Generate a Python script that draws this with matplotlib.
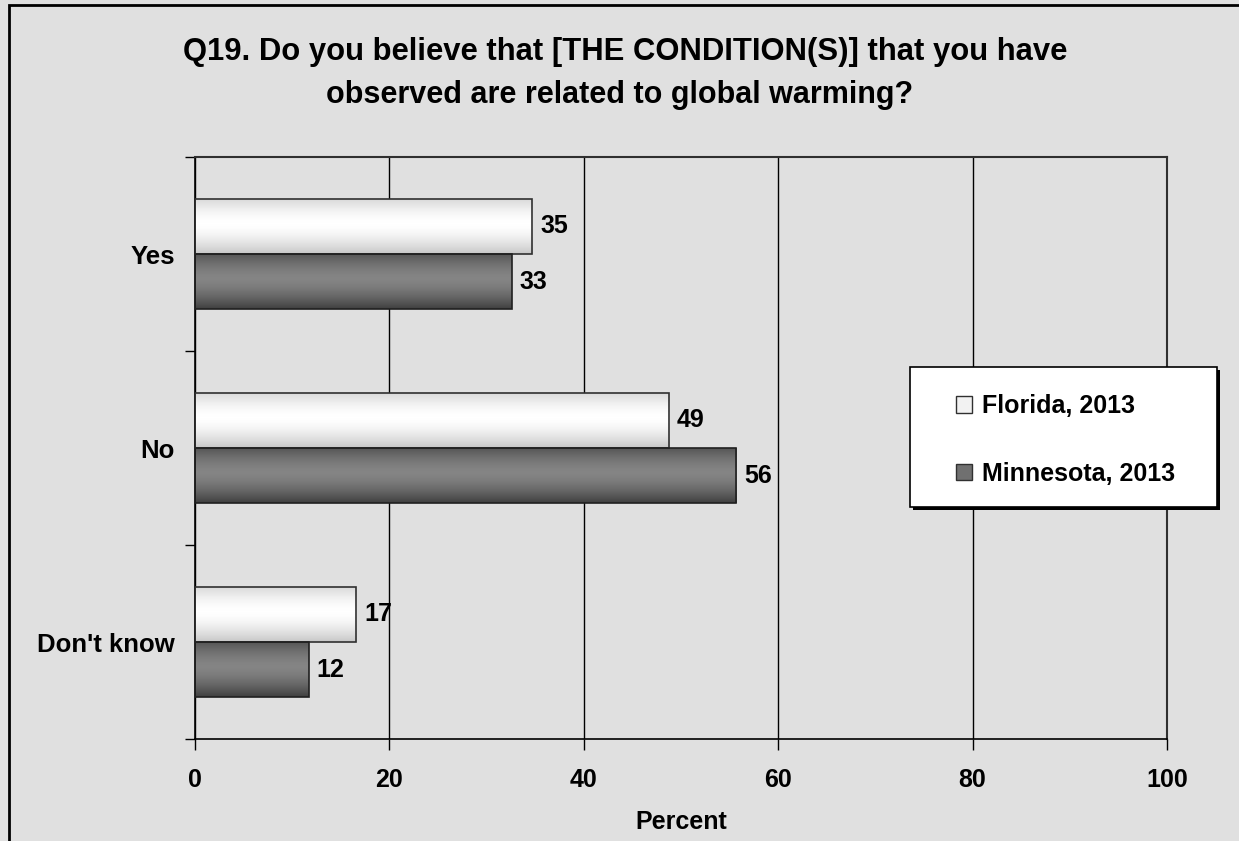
import numpy as np
import matplotlib.pyplot as plt
from matplotlib.patches import Patch, Rectangle

# survey answers, percent
categories = ['Yes', 'No', "Don't know"]
florida = [34.7, 48.8, 16.6]
minnesota = [32.6, 55.7, 11.7]
series_names = ['Florida, 2013', 'Minnesota, 2013']
title_lines = ['Q19. Do you believe that [THE CONDITION(S)] that you have',
               'observed are related to global warming?']

plt.rcParams['font.family'] = ['Liberation Sans', 'DejaVu Sans']
plt.rcParams['font.weight'] = 'bold'

W, H = 1239, 841
bg = '#e0e0e0'
fig = plt.figure(figsize=(W / 100, H / 100), dpi=100, facecolor=bg)
ax = fig.add_axes([195 / W, 1 - 739 / H, 972 / W, 582 / H], facecolor=bg)

y = np.arange(len(categories))
h = 0.286


def gradient(edge, mid):
    t = np.linspace(0, 1, 120)
    g = mid + (edge - mid) * (np.abs(t - 0.45) / 0.55) ** 1.6
    return g.reshape(-1, 1)


bars_f = ax.barh(y - h / 2, florida, height=h, color='none', edgecolor='#303030', linewidth=1.2, zorder=3)
bars_m = ax.barh(y + h / 2, minnesota, height=h, color='none', edgecolor='#202020', linewidth=1.2, zorder=3)

# cylinder-like shading inside each bar
for bars, (edge, mid) in [(bars_f, (0.78, 1.0)), (bars_m, (0.25, 0.52))]:
    for b in bars:
        x0, y0 = b.get_x(), b.get_y()
        w, hh = b.get_width(), b.get_height()
        im = ax.imshow(gradient(edge, mid), cmap='gray', vmin=0, vmax=1, aspect='auto',
                       extent=[x0, x0 + w, y0 + hh, y0], zorder=2, interpolation='bicubic')
        im.set_clip_path(b)

for bars, vals in [(bars_f, florida), (bars_m, minnesota)]:
    for b, v in zip(bars, vals):
        ax.text(v + 0.8, b.get_y() + b.get_height() / 2, f'{v:.0f}', va='center', ha='left',
                fontsize=18, fontweight='bold', zorder=4)

ax.set_xlim(0, 100)
ax.set_ylim(len(categories) - 0.5, -0.5)
ax.set_xticks(np.arange(0, 101, 20))
ax.xaxis.grid(True, color='black', linewidth=1)
ax.set_axisbelow(True)
ax.set_yticks(y)
ax.set_yticklabels(categories)
ax.set_yticks(np.arange(-0.5, len(categories), 1), minor=True)
ax.tick_params(axis='y', which='major', length=0, pad=14.5, labelsize=18.5)
ax.tick_params(axis='y', which='minor', length=7, width=1, direction='out')
ax.tick_params(axis='x', length=8, width=1, direction='out', pad=13, labelsize=18)
for lbl in ax.get_xticklabels() + ax.get_yticklabels():
    lbl.set_fontweight('bold')
for s in ['top', 'right']:
    ax.spines[s].set_color('#303030')
    ax.spines[s].set_linewidth(1.5)
for s in ['left', 'bottom']:
    ax.spines[s].set_color('black')
    ax.spines[s].set_linewidth(1.2)
ax.set_xlabel('Percent', fontsize=18, fontweight='bold', labelpad=13)

fig.text(0.5 + 6 / W, 1 - 52 / H, title_lines[0], ha='center', va='center', fontsize=22.3, fontweight='bold')
fig.text(0.5, 1 - 95 / H, title_lines[1], ha='center', va='center', fontsize=22, fontweight='bold')

# legend box with hard black shadow
fig.patches.append(Rectangle((913 / W, 1 - 510 / H), 307 / W, 140 / H, transform=fig.transFigure,
                             facecolor='black', edgecolor='none', zorder=5))
fig.patches.append(Rectangle((910 / W, 1 - 507 / H), 307 / W, 140 / H, transform=fig.transFigure,
                             facecolor='white', edgecolor='black', linewidth=1.2, zorder=6))

handles = [Patch(facecolor='#f2f2f2', edgecolor='#303030'),
           Patch(facecolor='#707070', edgecolor='#303030')]
leg = fig.legend(handles, series_names, loc='center left', bbox_to_anchor=(956 / W, 1 - 440 / H),
                 fontsize=18, frameon=False, handlelength=0.64, handleheight=0.64,
                 handletextpad=0.4, labelspacing=1.75, borderpad=0, borderaxespad=0)
leg.set_zorder(7)
for t in leg.get_texts():
    t.set_fontweight('bold')

# outer chart border (runs off the right and bottom edges)
fig.patches.append(Rectangle((9 / W, -0.1), 1.2, 1.1 - 5 / H, transform=fig.transFigure,
                             fill=False, edgecolor='black', linewidth=2))

fig.savefig('out.png', dpi=100, facecolor=bg)
